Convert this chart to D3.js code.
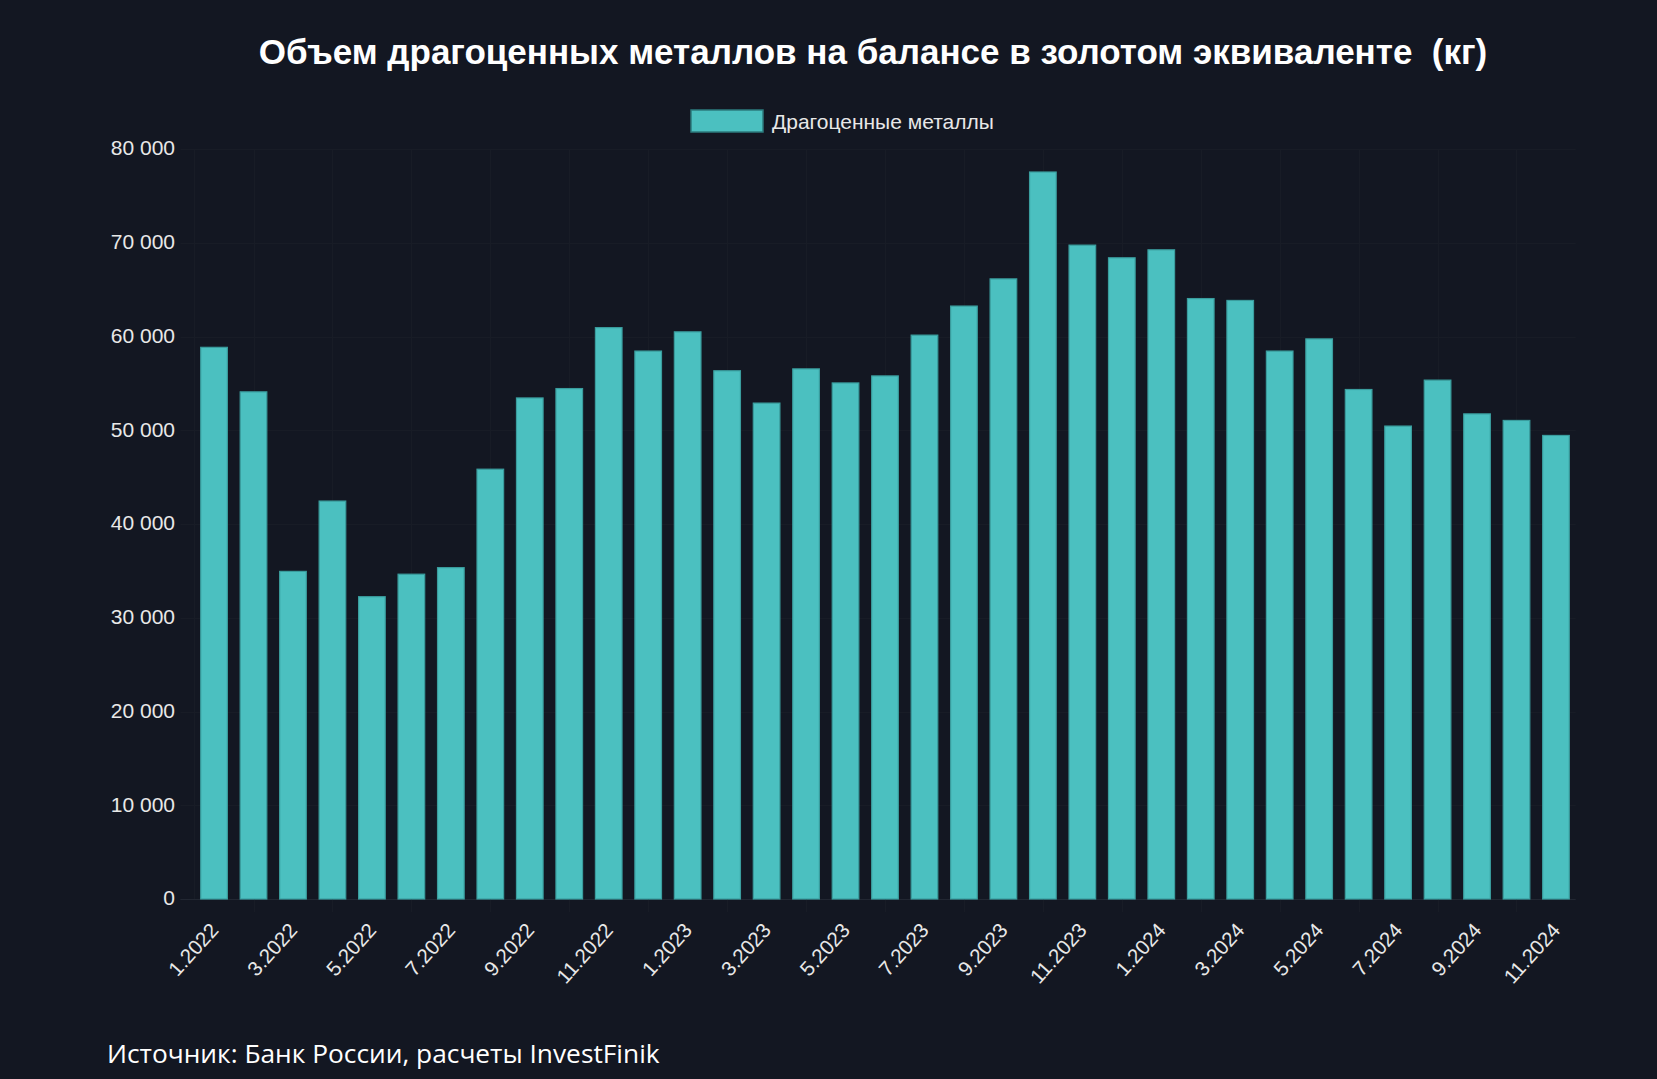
<!DOCTYPE html>
<html>
<head>
<meta charset="utf-8">
<script src="https://cdn.jsdelivr.net/npm/d3@7"></script>
<style>
  html, body { margin: 0; padding: 0; background: #131722; }
  svg { display: block; }
  text { white-space: pre; }
</style>
</head>
<body>
<svg id="chart" width="1657" height="1079"></svg>
<script>
const categories = [
  "1.2022","2.2022","3.2022","4.2022","5.2022","6.2022","7.2022","8.2022","9.2022","10.2022","11.2022","12.2022",
  "1.2023","2.2023","3.2023","4.2023","5.2023","6.2023","7.2023","8.2023","9.2023","10.2023","11.2023","12.2023",
  "1.2024","2.2024","3.2024","4.2024","5.2024","6.2024","7.2024","8.2024","9.2024","10.2024","11.2024"
];
const values = [
  58900, 54150, 35000, 42500, 32300, 34700, 35400, 45900, 53500, 54500, 61000, 58500,
  60550, 56400, 52950, 56600, 55100, 55850, 60200, 63300, 66200, 77600, 69800, 68450,
  69300, 64100, 63900, 58500, 59800, 54400, 50500, 55400, 51800, 51100, 49500
];
const xTickLabels = ["1.2022","3.2022","5.2022","7.2022","9.2022","11.2022","1.2023","3.2023","5.2023","7.2023","9.2023","11.2023","1.2024","3.2024","5.2024","7.2024","9.2024","11.2024"];
const yTicks = [0, 10000, 20000, 30000, 40000, 50000, 60000, 70000, 80000];
const seriesName = "Драгоценные металлы";
const titleText = "Объем драгоценных металлов на балансе в золотом эквиваленте  (кг)";
const sourceText = "Источник: Банк России, расчеты InvestFinik";

(function () {
const svg = d3.select("#chart");
const pL = 194.3, pR = 1575.7, pT = 149, pB = 899;

const x = d3.scaleBand().domain(categories).range([pL, pR]).paddingInner(0.3).paddingOuter(0.15);
const y = d3.scaleLinear().domain([0, 80000]).range([pB, pT]);

const loc = d3.formatLocale({decimal: ",", thousands: " ", grouping: [3], currency: ["", ""]});
const fmt = loc.format(",d");

const gridColor = "#181c26";

// horizontal grid
svg.append("g").selectAll("line").data(yTicks).join("line")
  .attr("x1", pL - 14).attr("x2", pR)
  .attr("y1", d => Math.round(y(d)) + 0.5).attr("y2", d => Math.round(y(d)) + 0.5)
  .attr("stroke", d => d === 0 ? "#222732" : gridColor).attr("stroke-width", 1);

// vertical grid
const vIdx = categories.map((c, i) => i).filter(i => i % 2 === 1);
svg.append("g").selectAll("line").data(vIdx).join("line")
  .attr("x1", i => Math.round(x(categories[i]) + x.bandwidth() / 2) + 0.5)
  .attr("x2", i => Math.round(x(categories[i]) + x.bandwidth() / 2) + 0.5)
  .attr("y1", pT).attr("y2", pB + 13)
  .attr("stroke", gridColor).attr("stroke-width", 1);
svg.append("line").attr("x1", Math.round(pL) + 0.5).attr("x2", Math.round(pL) + 0.5)
  .attr("y1", pT).attr("y2", pB).attr("stroke", gridColor);

// bars
svg.append("g").selectAll("rect").data(values).join("rect")
  .attr("x", (d, i) => x(categories[i]) + 0.5)
  .attr("y", d => y(d) + 0.5)
  .attr("width", x.bandwidth() - 1)
  .attr("height", d => y(0) - y(d) - 0.5)
  .attr("fill", "#4bc0c0")
  .attr("stroke", "#3a9d9e")
  .attr("stroke-width", 1.2);

// y axis labels
svg.append("g").selectAll("text").data(yTicks).join("text")
  .attr("x", 175).attr("y", d => y(d))
  .attr("dy", "0.3em")
  .attr("text-anchor", "end")
  .attr("font-family", "'Liberation Sans', Arial, sans-serif")
  .attr("font-size", 21)
  .attr("fill", "#e8e8e8")
  .text(d => fmt(d));

// x axis labels
svg.append("g").selectAll("text").data(xTickLabels).join("text")
  .attr("transform", d => `translate(${x(d) + x.bandwidth() / 2},${pB + 27}) rotate(-48)`)
  .attr("text-anchor", "end")
  .attr("dy", "0.36em")
  .attr("font-family", "'Liberation Sans', Arial, sans-serif")
  .attr("font-size", 20.5)
  .attr("fill", "#e8e8e8")
  .text(d => d);

// title
svg.append("text")
  .attr("x", 873).attr("y", 64)
  .attr("text-anchor", "middle")
  .attr("font-family", "'Liberation Sans', Arial, sans-serif")
  .attr("font-weight", "bold")
  .attr("font-size", 35)
  .attr("fill", "#ffffff")
  .text(titleText);

// legend
svg.append("rect").attr("x", 691).attr("y", 110).attr("width", 72).attr("height", 22)
  .attr("fill", "#4bc0c0").attr("stroke", "#2c7b7d").attr("stroke-width", 1.5);
svg.append("text").attr("x", 772).attr("y", 121).attr("dy", "0.36em")
  .attr("font-family", "'Liberation Sans', Arial, sans-serif")
  .attr("font-size", 21).attr("fill", "#e8e8e8")
  .text(seriesName);

// source
svg.append("text").attr("x", 107).attr("y", 1063)
  .attr("font-family", "'Open Sans', 'Noto Sans', sans-serif")
  .attr("font-size", 26.3).attr("fill", "#ffffff")
  .text(sourceText);
})();
</script>
</body>
</html>
